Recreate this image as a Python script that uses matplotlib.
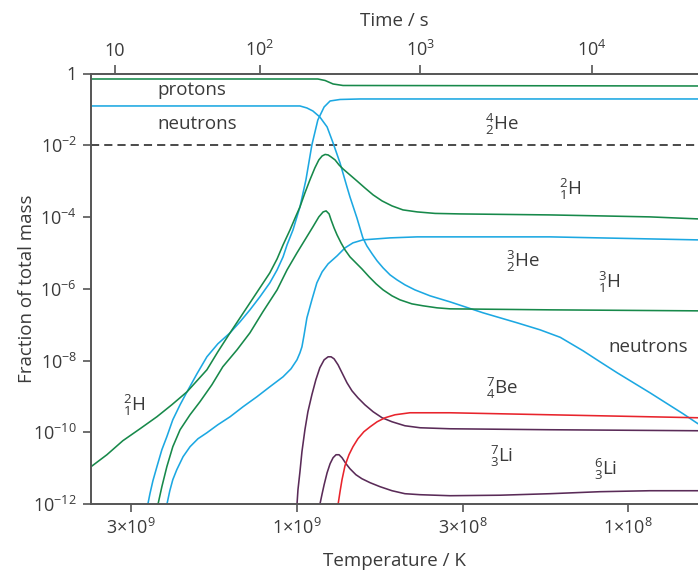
import numpy as np
import matplotlib
matplotlib.use("Agg")
import matplotlib.pyplot as plt
from matplotlib.ticker import NullLocator, FixedLocator, FixedFormatter

plt.rcParams["font.family"] = ["Open Sans", "DejaVu Sans"]
plt.rcParams["mathtext.fontset"] = "custom"
plt.rcParams["mathtext.rm"] = "Open Sans"
plt.rcParams["mathtext.it"] = "Open Sans:italic"
plt.rcParams["mathtext.bf"] = "Open Sans:bold"

# ---- abundances: log10(T / K) and log10(mass fraction) ----
protons_logT = [9.622, 8.991, 8.937, 8.915, 8.891, 8.861, 7.789]
protons_logX = [-0.153, -0.153, -0.153, -0.195, -0.292, -0.334, -0.348]

neutrons_logT = [9.622, 8.991, 8.970, 8.952, 8.931, 8.909, 8.891, 8.870, 8.849, 8.840,
                 8.819, 8.801, 8.789, 8.773, 8.758, 8.740, 8.719, 8.698, 8.674, 8.644,
                 8.598, 8.538, 8.438, 8.335, 8.266, 8.205, 8.136, 8.085, 8.033, 7.934,
                 7.834, 7.789]
neutrons_logX = [-0.905, -0.905, -0.961, -1.045, -1.212, -1.490, -1.936, -2.493, -3.162, -3.440,
                 -4.025, -4.582, -4.805, -5.028, -5.223, -5.418, -5.613, -5.752, -5.891, -6.031,
                 -6.198, -6.365, -6.671, -6.950, -7.145, -7.354, -7.730, -8.036, -8.343, -8.900,
                 -9.485, -9.763]

he4_logT = [9.453, 9.450, 9.444, 9.435, 9.423, 9.408, 9.393, 9.375, 9.353, 9.332, 9.302,
            9.272, 9.239, 9.202, 9.172, 9.142, 9.112, 9.082, 9.060, 9.042, 9.030, 9.012,
            8.991, 8.973, 8.955, 8.937, 8.918, 8.900, 8.870, 8.810, 7.789]
he4_logX = [-12.16, -11.992, -11.713, -11.351, -10.961, -10.487, -10.125, -9.652, -9.234, -8.872, -8.370,
            -7.897, -7.535, -7.228, -6.922, -6.588, -6.226, -5.836, -5.474, -5.111, -4.777, -4.359,
            -3.719, -2.967, -1.992, -1.295, -0.933, -0.766, -0.724, -0.710, -0.710]

h2_logT = [9.622, 9.574, 9.526, 9.474, 9.423, 9.378, 9.332, 9.302, 9.272, 9.239, 9.202,
           9.172, 9.142, 9.112, 9.082, 9.060, 9.042, 9.021, 9.003, 8.991, 8.976, 8.961,
           8.946, 8.934, 8.924, 8.915, 8.906, 8.897, 8.885, 8.873, 8.861, 8.840, 8.819,
           8.795, 8.770, 8.743, 8.713, 8.680, 8.637, 8.583, 8.508, 8.236, 8.085, 7.934, 7.789]
h2_logX = [-10.961, -10.627, -10.237, -9.903, -9.568, -9.234, -8.872, -8.565, -8.259, -7.758, -7.228,
           -6.811, -6.393, -5.975, -5.557, -5.167, -4.777, -4.359, -3.969, -3.719, -3.329, -2.967,
           -2.632, -2.409, -2.298, -2.256, -2.270, -2.326, -2.409, -2.549, -2.660, -2.827, -2.994,
           -3.189, -3.384, -3.552, -3.691, -3.802, -3.858, -3.900, -3.914, -3.942, -3.969, -3.997, -4.053]

h3_logT = [9.423, 9.420, 9.408, 9.393, 9.375, 9.353, 9.323, 9.293, 9.257, 9.224, 9.181, 9.142,
           9.103, 9.060, 9.030, 9.000, 8.976, 8.952, 8.934, 8.921, 8.912, 8.903, 8.897, 8.888,
           8.879, 8.867, 8.855, 8.840, 8.822, 8.804, 8.782, 8.761, 8.740, 8.713, 8.689, 8.653,
           8.619, 8.577, 8.538, 8.236, 7.789]
h3_logX = [-12.16, -12.019, -11.518, -10.961, -10.404, -9.930, -9.513, -9.150, -8.677, -8.175, -7.702, -7.228,
           -6.643, -6.031, -5.474, -5.000, -4.638, -4.276, -3.997, -3.858, -3.830, -3.914, -4.081, -4.304,
           -4.499, -4.721, -4.916, -5.111, -5.279, -5.446, -5.669, -5.864, -6.031, -6.198, -6.309, -6.421,
           -6.476, -6.532, -6.560, -6.588, -6.616]

he3_logT = [9.396, 9.393, 9.384, 9.375, 9.363, 9.344, 9.323, 9.299, 9.272, 9.239, 9.202, 9.163,
            9.121, 9.082, 9.042, 9.018, 9.000, 8.991, 8.985, 8.979, 8.970, 8.955, 8.940, 8.924,
            8.906, 8.879, 8.855, 8.831, 8.801, 8.719, 8.637, 8.236, 7.789]
he3_logX = [-12.16, -12.019, -11.630, -11.323, -11.045, -10.682, -10.404, -10.181, -10.014, -9.791, -9.568, -9.290,
            -9.011, -8.733, -8.454, -8.231, -7.981, -7.786, -7.618, -7.312, -6.811, -6.309, -5.836, -5.529,
            -5.306, -5.084, -4.861, -4.721, -4.638, -4.582, -4.554, -4.554, -4.638]

li7_logT = [9.001, 9.000, 8.997, 8.991, 8.985, 8.976, 8.967, 8.955, 8.943, 8.931, 8.918, 8.906,
            8.897, 8.888, 8.876, 8.864, 8.849, 8.834, 8.816, 8.795, 8.770, 8.743, 8.713, 8.674,
            8.628, 8.538, 8.236, 7.789]
li7_logX = [-12.16, -12.019, -11.602, -11.100, -10.543, -9.930, -9.429, -8.955, -8.538, -8.203, -7.981, -7.897,
            -7.897, -7.953, -8.120, -8.343, -8.621, -8.844, -9.039, -9.234, -9.429, -9.596, -9.708, -9.819,
            -9.875, -9.903, -9.930, -9.958]

li6_logT = [8.932, 8.931, 8.924, 8.918, 8.909, 8.900, 8.891, 8.882, 8.873, 8.864, 8.852, 8.840,
            8.822, 8.804, 8.779, 8.749, 8.713, 8.674, 8.628, 8.538, 8.387, 8.236, 8.085, 7.934, 7.789]
li6_logX = [-12.16, -12.019, -11.713, -11.462, -11.128, -10.877, -10.710, -10.627, -10.627, -10.710, -10.877,
            -11.017, -11.184, -11.295, -11.407, -11.518, -11.630, -11.713, -11.741, -11.769, -11.755,
            -11.713, -11.657, -11.630, -11.630]

be7_logT = [8.877, 8.876, 8.870, 8.864, 8.855, 8.843, 8.831, 8.816, 8.798, 8.779, 8.758, 8.734,
            8.704, 8.659, 8.538, 8.236, 7.789]
be7_logX = [-12.16, -12.019, -11.657, -11.323, -10.933, -10.627, -10.404, -10.181, -9.986, -9.847, -9.708,
            -9.596, -9.513, -9.457, -9.457, -9.513, -9.596]

# ---- axes ticks ----
temp_ticks = [10**9.5, 1e9, 10**8.5, 1e8]
temp_labels = ["3×10$^{9}$", "1×10$^{9}$", "3×10$^{8}$", "1×10$^{8}$"]
time_ticks_s = [10, 100, 1000, 10000]
time_tick_logT = [9.550, 9.112, 8.628, 8.109]
time_labels = ["10", "10$^{2}$", "10$^{3}$", "10$^{4}$"]
frac_ticks = [1, 1e-2, 1e-4, 1e-6, 1e-8, 1e-10, 1e-12]
frac_labels = ["1", "10$^{-2}$", "10$^{-4}$", "10$^{-6}$", "10$^{-8}$", "10$^{-10}$", "10$^{-12}$"]

GREEN = "#17894a"
BLUE = "#1ca8e2"
PURPLE = "#5a2b58"
RED = "#e8242c"
AXIS = "#555555"
TEXT = "#3a3a3a"

fig = plt.figure(figsize=(6.98, 5.77), dpi=100)
ax = fig.add_axes([91 / 698, 73 / 577, 1 - 91 / 698, (504 - 73.5) / 577])


def draw(logT, logX, color):
    ax.plot(10 ** np.asarray(logT), 10 ** np.asarray(logX), color=color, lw=1.15,
            solid_joinstyle="round", solid_capstyle="round")


ax.axhline(1e-2, color="#4a4a4a", lw=1.4, dashes=(4.2, 2.6))
draw(protons_logT, protons_logX, GREEN)
draw(neutrons_logT, neutrons_logX, BLUE)
draw(he4_logT, he4_logX, BLUE)
draw(he3_logT, he3_logX, BLUE)
draw(h2_logT, h2_logX, GREEN)
draw(h3_logT, h3_logX, GREEN)
draw(li7_logT, li7_logX, PURPLE)
draw(li6_logT, li6_logX, PURPLE)
draw(be7_logT, be7_logX, RED)

ax.set_xscale("log")
ax.set_yscale("log")
ax.set_xlim(10**9.622, 10**7.789)
ax.set_ylim(1e-12, 1)

ax.xaxis.set_major_locator(FixedLocator(temp_ticks))
ax.xaxis.set_major_formatter(FixedFormatter(temp_labels))
ax.xaxis.set_minor_locator(NullLocator())
ax.yaxis.set_major_locator(FixedLocator(frac_ticks))
ax.yaxis.set_major_formatter(FixedFormatter(frac_labels))
ax.yaxis.set_minor_locator(NullLocator())

for side in ("left", "bottom", "top"):
    ax.spines[side].set_color(AXIS)
    ax.spines[side].set_linewidth(1.4)
ax.spines["right"].set_visible(False)
ax.tick_params(axis="both", which="major", direction="out", length=6, width=1.2,
               color=AXIS, labelsize=13, labelcolor=TEXT, pad=4)

sec = ax.secondary_xaxis("top")
sec.set_xticks([10**v for v in time_tick_logT], time_labels)
sec.xaxis.set_minor_locator(NullLocator())
sec.spines["top"].set_visible(False)
sec.tick_params(axis="x", direction="out", length=6, width=1.2, color=AXIS,
                labelsize=13, labelcolor=TEXT, pad=4)
sec.set_xlabel("Time / s", fontsize=13.5, color=TEXT, labelpad=10)

ax.set_xlabel("Temperature / K", fontsize=13.5, color=TEXT, labelpad=10)
ax.set_ylabel("Fraction of total mass", fontsize=13.5, color=TEXT, labelpad=-2)

# curve labels
lab = dict(fontsize=13.5, color=TEXT, va="center")
ax.text(10**9.423, 10**-0.46, "protons", ha="left", **lab)
ax.text(10**9.423, 10**-1.40, "neutrons", ha="left", **lab)
ax.text(10**8.432, 10**-1.43, r"${}^{4}_{2}$He", ha="left", **lab)
ax.text(10**8.208, 10**-3.24, r"${}^{2}_{1}$H", ha="left", **lab)
ax.text(10**8.37, 10**-5.24, r"${}^{3}_{2}$He", ha="left", **lab)
ax.text(10**8.09, 10**-5.83, r"${}^{3}_{1}$H", ha="left", **lab)
ax.text(10**8.06, 10**-7.62, "neutrons", ha="left", **lab)
ax.text(10**8.429, 10**-8.79, r"${}^{7}_{4}$Be", ha="left", **lab)
ax.text(10**8.417, 10**-10.68, r"${}^{7}_{3}$Li", ha="left", **lab)
ax.text(10**8.103, 10**-11.03, r"${}^{6}_{3}$Li", ha="left", **lab)
ax.text(10**9.525, 10**-9.25, r"${}^{2}_{1}$H", ha="left", **lab)

fig.savefig("out.png", dpi=100)
